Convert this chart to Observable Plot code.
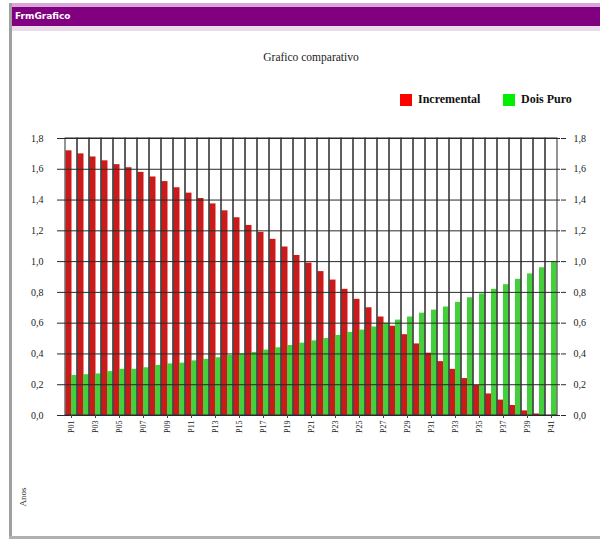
<!DOCTYPE html>
<html>
<head>
<meta charset="utf-8">
<script src="https://cdn.jsdelivr.net/npm/d3@7"></script>
<script src="https://cdn.jsdelivr.net/npm/@observablehq/plot@0.6"></script>
<style>
  html, body { margin: 0; padding: 0; background: #fff; }
  #win { position: relative; width: 600px; height: 541px; overflow: hidden; background: #fff; font-family: "Liberation Serif", serif; }
  #win svg { position: absolute; left: 0; top: 0; }
  .hl { position: absolute; }
  #titlebar { left: 12px; top: 7px; width: 588px; height: 19px; background: #800080; color: #fff;
    font: bold 9px "DejaVu Sans", sans-serif; line-height: 19px; padding-left: 3px; box-sizing: border-box; }
  #topline { left: 12px; top: 3px; width: 588px; height: 4px; background: #d9a6d9; }
  #subline { left: 12px; top: 26px; width: 588px; height: 5px; background: #eadcea; }
  #leftborder { left: 9px; top: 3px; width: 3px; height: 536px; background: #a0a0a0; }
  #bottomborder { left: 9px; top: 536px; width: 591px; height: 3px; background: #b0b0b0; }
  #charttitle { left: 0; width: 622px; top: 51px; text-align: center; font-size: 11.5px; color: #222; }
  .legsw { position: absolute; width: 12px; height: 12px; top: 94px; }
  .legtx { position: absolute; top: 92px; font-weight: bold; font-size: 12px; color: #111; }
  #axisnote { left: 12px; top: 490px; width: 26px; height: 14px; transform: rotate(-90deg); font-size: 9px; color: #333; text-align: center; }
</style>
</head>
<body>
<div id="win"></div>
<script>
// ---- data ----
const categories = d3.range(1, 42).map(i => "P" + String(i).padStart(2, "0"));
const incremental = [1.72, 1.70, 1.68, 1.655, 1.63, 1.61, 1.58, 1.55, 1.52, 1.48,
  1.445, 1.41, 1.375, 1.33, 1.285, 1.235, 1.19, 1.145, 1.095, 1.04,
  0.99, 0.935, 0.88, 0.82, 0.755, 0.70, 0.64, 0.58, 0.525, 0.465,
  0.405, 0.35, 0.30, 0.24, 0.195, 0.14, 0.10, 0.065, 0.03, 0.01, 0.0];
const doisPuro = [0.26, 0.265, 0.27, 0.285, 0.30, 0.30, 0.31, 0.325, 0.335, 0.34,
  0.355, 0.365, 0.375, 0.39, 0.40, 0.41, 0.425, 0.44, 0.455, 0.47,
  0.485, 0.50, 0.52, 0.54, 0.555, 0.575, 0.60, 0.62, 0.64, 0.665,
  0.685, 0.705, 0.735, 0.765, 0.79, 0.82, 0.85, 0.885, 0.92, 0.96, 1.00];
const yTicks = [0, 0.2, 0.4, 0.6, 0.8, 1.0, 1.2, 1.4, 1.6, 1.8];
const xTickLabels = categories.filter((d, i) => i % 2 === 0);
const seriesNames = ["Incremental", "Dois Puro"];
const seriesColors = ["#cc1a1a", "#44d03a"];
const legendColors = ["#ff0000", "#00ee00"];

const data = categories.map((c, i) => ({cat: c, inc: incremental[i], puro: doisPuro[i]}));
const fmt = d => d.toFixed(1).replace(".", ",");

const chart = Plot.plot({
  width: 600,
  height: 541,
  marginLeft: 62,
  marginRight: 40,
  marginTop: 138,
  marginBottom: 126,
  style: {fontFamily: "'Liberation Serif', serif", fontSize: "10px", color: "#222", background: "transparent"},
  x: {domain: categories, padding: 0, axis: null},
  y: {domain: [0, 1.8], axis: null},
  marks: [
    Plot.barY(data, {x: "cat", y: "inc", fill: seriesColors[0], insetLeft: 0.5, insetRight: 5.5}),
    Plot.barY(data, {x: "cat", y: "puro", fill: seriesColors[1], insetLeft: 6, insetRight: 0.5}),
    Plot.barY(categories, {x: d => d, y1: 0, y2: 1.8, fill: "none", stroke: "#2a2a2a", strokeWidth: 1}),
    Plot.gridY(yTicks, {stroke: "#2a2a2a", strokeOpacity: 1, strokeWidth: 1}),
    Plot.axisY({anchor: "left", ticks: yTicks, tickSize: 5, tickPadding: 14, tickFormat: fmt, stroke: "#2a2a2a", label: null}),
    Plot.axisY({anchor: "right", ticks: yTicks, tickSize: 5, tickPadding: 8, tickFormat: fmt, stroke: "#2a2a2a", label: null}),
    Plot.axisX({ticks: xTickLabels, tickRotate: -90, tickSize: 3, tickPadding: 2, fontSize: 8, stroke: "#444", label: null})
  ]
});

const win = document.getElementById("win");
win.appendChild(chart);

function addDiv(id, cls, text) {
  const d = document.createElement("div");
  if (id) d.id = id;
  d.className = cls;
  if (text) d.textContent = text;
  win.appendChild(d);
  return d;
}
addDiv("leftborder", "hl");
addDiv("topline", "hl");
addDiv("titlebar", "hl", "FrmGrafico");
addDiv("subline", "hl");
addDiv("bottomborder", "hl");
addDiv("charttitle", "hl", "Grafico comparativo");
addDiv("axisnote", "hl", "Anos");

const legendX = [[400, 418], [503, 521]];
seriesNames.forEach((name, i) => {
  const sw = document.createElement("div");
  sw.className = "legsw";
  sw.style.left = legendX[i][0] + "px";
  sw.style.background = legendColors[i];
  win.appendChild(sw);
  const tx = document.createElement("div");
  tx.className = "legtx";
  tx.style.left = legendX[i][1] + "px";
  tx.textContent = name;
  win.appendChild(tx);
});
</script>
</body>
</html>
